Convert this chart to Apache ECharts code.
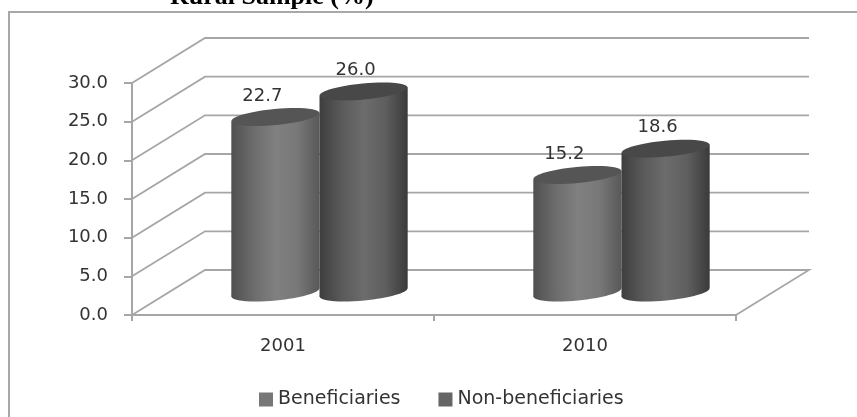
<!DOCTYPE html>
<html>
<head>
<meta charset="utf-8" />
<script src="https://cdn.jsdelivr.net/npm/echarts@6/dist/echarts.min.js" type="text/javascript" charset="utf-8"></script>
<title>Rural Sample (%)</title>
<style>html,body{margin:0;padding:0;background:#fff;overflow:hidden;}</style>
</head>
<body>
<div id="main" style="width:857px;height:417px;"></div>
<script type="text/javascript">
var categories = ['2001', '2010'];
var beneficiaries = [22.7, 15.2];
var nonBeneficiaries = [26.0, 18.6];
var yTicks = [0, 5, 10, 15, 20, 25, 30];

// fake 3D: how far the back wall sits from the front axes
var depthX = 73, depthY = -45;
var lineColor = '#a6a6a6';
var fontName = '"DejaVu Sans", sans-serif';

var myChart = echarts.init(document.getElementById('main'));

function grad(stops) {
  return new echarts.graphic.LinearGradient(0, 0, 1, 0, stops.map(function (c, i) {
    return {offset: i / (stops.length - 1), color: c};
  }));
}

// one cylinder, side says which half of the category band it takes
function cylinder(side, body, topColor, labelDx) {
  return function (params, api) {
    var base = api.coord([api.value(0), 0]);
    var top = api.coord([api.value(0), api.value(1)]);
    var rx = api.size([1, 0])[0] * 0.146;
    var cx = base[0] + depthX / 2 + side * rx;
    var by = base[1] + depthY / 2;
    var ty = top[1] + depthY / 2;
    var tilt = 0.095, ry = 8, drop = rx * Math.sin(tilt);
    return {
      type: 'group',
      children: [
        {type: 'ellipse', shape: {cx: cx, cy: by, rx: rx, ry: ry}, rotation: tilt, originX: cx, originY: by, style: {fill: body}},
        {type: 'polygon', shape: {points: [[cx - rx, ty + drop], [cx + rx, ty - drop], [cx + rx, by - drop], [cx - rx, by + drop]]}, style: {fill: body}},
        {type: 'ellipse', shape: {cx: cx, cy: ty, rx: rx, ry: ry}, rotation: tilt, originX: cx, originY: ty, style: {fill: topColor}},
        {type: 'text', style: {x: cx + labelDx, y: ty - 21, text: api.value(1).toFixed(1), fill: '#333', font: '18px ' + fontName, align: 'center', verticalAlign: 'middle'}}
      ]
    };
  };
}

var option = {
  animation: false,
  backgroundColor: '#fff',
  grid: {left: 132, right: 121, top: 83, bottom: 102},
  legend: {
    left: 254, top: 385, itemWidth: 14, itemHeight: 14, itemGap: 38, icon: 'rect',
    textStyle: {fontFamily: fontName, fontSize: 19, color: '#333'},
    data: ['Beneficiaries', 'Non-beneficiaries']
  },
  xAxis: {
    type: 'category',
    data: categories,
    axisLine: {lineStyle: {color: lineColor, width: 2}},
    axisTick: {show: true, length: 6, lineStyle: {color: lineColor, width: 2}},
    axisLabel: {fontFamily: fontName, fontSize: 18, color: '#333', margin: 22}
  },
  yAxis: {
    type: 'value', min: 0, max: 30, interval: 5,
    splitLine: {show: false},
    axisLine: {show: true, lineStyle: {color: lineColor, width: 2}},
    axisTick: {show: true, length: 8, lineStyle: {color: lineColor, width: 2}},
    axisLabel: {fontFamily: fontName, fontSize: 18, color: '#333', margin: 24,
      formatter: function (v) { return v.toFixed(1); }}
  },
  graphic: [
    {type: 'polyline', shape: {points: [[9, 417], [9, 12], [857, 12]]}, style: {stroke: '#a8a8a8', lineWidth: 2, fill: null}},
    {type: 'text', style: {x: 170, y: 10, text: 'Rural Sample (%)', font: 'bold 26px "Liberation Serif", serif', fill: '#000', verticalAlign: 'bottom'}}
  ],
  series: [
    {
      // back wall lines and their diagonals, one per y tick
      type: 'custom', silent: true, z: 1,
      data: yTicks.map(function (v) { return [0, v]; }),
      renderItem: function (params, api) {
        var cs = params.coordSys;
        var y = api.coord([0, api.value(1)])[1];
        var pts = [[cs.x, y], [cs.x + depthX, y + depthY], [cs.x + cs.width + depthX, y + depthY]];
        if (api.value(1) === 0) pts.push([cs.x + cs.width, y]);
        return {type: 'polyline', shape: {points: pts}, style: {stroke: lineColor, lineWidth: 1.8, fill: null}};
      }
    },
    {
      name: 'Beneficiaries', type: 'custom', z: 2,
      itemStyle: {color: '#777777'},
      data: beneficiaries.map(function (v, i) { return [i, v]; }),
      renderItem: cylinder(-1, grad(['#505050', '#6c6c6c', '#808080', '#787878', '#585858']), '#555555', -13)
    },
    {
      name: 'Non-beneficiaries', type: 'custom', z: 3,
      itemStyle: {color: '#656565'},
      data: nonBeneficiaries.map(function (v, i) { return [i, v]; }),
      renderItem: cylinder(1, grad(['#3e3e3e', '#5a5a5a', '#6c6c6c', '#5e5e5e', '#3a3a3a']), '#484848', -8)
    }
  ]
};
myChart.setOption(option);
</script>
</body>
</html>
